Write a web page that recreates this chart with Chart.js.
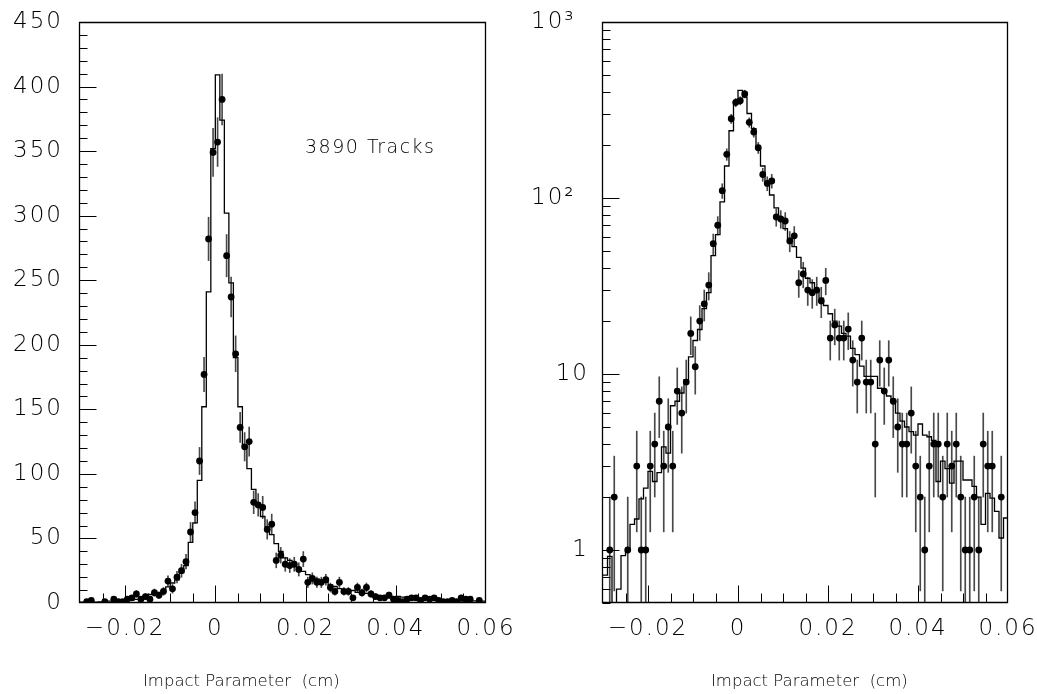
<!DOCTYPE html>
<html><head><meta charset="utf-8">
<script src="https://cdn.jsdelivr.net/npm/chart.js@4.4.1/dist/chart.umd.min.js"></script>
<style>
html,body{margin:0;padding:0;background:#fff;}
#wrap{position:relative;width:1037px;height:694px;overflow:hidden;background:#fff;}
.pane{position:absolute;top:0;height:694px;}
</style></head><body>
<div id="wrap">
<div class="pane" style="left:0;width:518px"><canvas id="c1" width="518" height="694"></canvas></div>
<div class="pane" style="left:518px;width:519px"><canvas id="c2" width="519" height="694"></canvas></div>
</div>
<script>
// ---- data ----
const xMin = -0.03, xMax = 0.06, nBins = 90;
const dataCounts = [
  0,1,2,0,0,1,0,3,1,1,
  3,4,7,3,5,3,8,6,9,17,
  11,20,25,32,55,70,110,177,282,349,
  357,390,269,237,193,136,121,125,78,76,
  74,57,61,33,37,30,29,30,26,34,
  16,19,16,16,18,12,9,16,9,9,
  4,12,8,12,7,5,4,4,6,3,
  2,1,3,4,4,2,4,3,4,2,
  1,1,2,1,4,3,3,0,2,0
];
const mcCounts = [
  0.72,0.92,0.4,0.6,0.93,1.0,1.4,1.5,1.95,2.25,
  2.8,2.45,2.75,3.85,3.55,6.6,7.0,7.8,9.3,12.5,
  15.5,17.9,23.5,29,47,62,95,152,241,352,
  409,374,302,248,190,152,122,104,88,77,
  67,59,53,46,40,35,33,30,27,24.5,
  22,20,18.7,17,16.4,14,12.9,11.1,9.7,9.7,
  9.7,8.3,8.0,7.5,7.0,6.0,5.4,5.0,4.7,4.5,
  5.2,4.5,4.4,4.2,2.45,3.2,2.9,2.4,3.2,3.2,
  2.5,2.5,2.3,2.0,1.4,2.1,1.97,1.66,1.17,1.52
];
const xTickValues = [-0.02, 0, 0.02, 0.04, 0.06];
const linTickValues = [0,50,100,150,200,250,300,350,400,450];
const logTickValues = [1,10,100,1000];
const logTickLabels = ['1','10','10\u00B2\u2002','10\u00B3\u2002'];
const xTitle = 'Impact Parameter  (cm)';
const trackText = '3890 Tracks';

// ---- derived point lists ----
const binW = (xMax - xMin) / nBins;
const centers = dataCounts.map((_, i) => xMin + binW * (i + 0.5));
function mcPoints() {
  const pts = mcCounts.map((v, i) => ({x: xMin + binW * i, y: v}));
  pts.push({x: xMax, y: mcCounts[nBins - 1]});
  return pts;
}
function dotPoints() {
  const p = [];
  dataCounts.forEach((n, i) => { if (n > 0) p.push({x: centers[i], y: n}); });
  return p;
}
function errPoints(isLog) {
  const p = [];
  dataCounts.forEach((n, i) => {
    if (n > 0) {
      const e = Math.sqrt(n);
      let lo = n - e; if (isLog) lo = Math.max(lo, 0.01); else lo = Math.max(lo, 0);
      p.push({x: centers[i], y: [lo, n + e]});
    }
  });
  return p;
}

const FONT = '"DejaVu Sans ExtraLight", "DejaVu Sans", sans-serif';

const framePlugin = {
  id: 'frameTicks',
  beforeDraw(chart) { chart.ctx.letterSpacing = '2px'; },
  afterDraw(chart) {
    const {ctx, chartArea: {left, right, top, bottom}, scales: {x, y}} = chart;
    const isLog = y.type === 'logarithmic';
    ctx.save();
    ctx.strokeStyle = '#000';
    ctx.lineWidth = 1.3;
    const L = Math.round(left) - 0.5, R = Math.round(right) - 0.5;
    const T = Math.round(top) + 0.5, B = Math.round(bottom) - 0.5;
    ctx.beginPath();
    ctx.moveTo(L, T); ctx.lineTo(R, T); ctx.lineTo(R, B); ctx.lineTo(L, B); ctx.closePath();
    ctx.stroke();
    ctx.lineWidth = 1;
    ctx.beginPath();
    // x ticks (inward)
    const nx = Math.round((xMax - xMin) / 0.005);
    for (let k = 1; k < nx; k++) {
      const v = xMin + k * 0.005;
      const major = Math.abs(Math.round(v / 0.02) * 0.02 - v) < 1e-9;
      const px = Math.round(x.getPixelForValue(v)) + 0.5;
      ctx.moveTo(px, B);
      ctx.lineTo(px, B - (major ? 17 : 9));
    }
    // y ticks
    const yt = [];
    if (isLog) {
      [0.1, 1, 10, 100].forEach(d => { for (let m = 1; m <= 9; m++) { const v = m * d; if (v >= 0.5 && v < 1000) yt.push([v, m === 1]); } });
    } else {
      for (let v = 10; v < 450; v += 10) yt.push([v, v % 50 === 0]);
    }
    yt.forEach(([v, major]) => {
      const py = Math.round(y.getPixelForValue(v)) + 0.5;
      ctx.moveTo(L, py);
      ctx.lineTo(L + (major ? 17 : 8), py);
    });
    ctx.stroke();
    ctx.restore();

    const texts = chart.options.plugins.frameTicks.texts || [];
    texts.forEach(t => {
      ctx.save();
      ctx.letterSpacing = t.spacing + 'px';
      ctx.font = '200 ' + t.size + 'px ' + FONT;
      ctx.fillStyle = '#000';
      ctx.textAlign = 'left';
      ctx.textBaseline = 'middle';
      ctx.fillText(t.text, t.x, t.y);
      ctx.restore();
    });
  }
};

function makeChart(id, isLog, yWidth, padRight, texts) {
  const tickFont = {family: FONT, size: 23, weight: 200};
  const yScale = isLog ? {
    type: 'logarithmic', min: 0.5, max: 1000,
    afterBuildTicks: s => { s.ticks = logTickValues.map(v => ({value: v, major: true})); },
    ticks: {callback: (v, i) => logTickLabels[i], font: tickFont, color: '#000', padding: 14, autoSkip: false}
  } : {
    type: 'linear', min: 0, max: 450,
    afterBuildTicks: s => { s.ticks = linTickValues.map(v => ({value: v})); },
    ticks: {callback: v => String(v), font: tickFont, color: '#000', padding: 17, autoSkip: false}
  };
  Object.assign(yScale, {
    grid: {display: false, drawTicks: false}, border: {display: false},
    afterFit: s => { s.width = yWidth; s.paddingTop = 0; s.paddingBottom = 0; }
  });
  return new Chart(document.getElementById(id), {
    type: 'bar',
    data: {datasets: [
      {type: 'line', data: mcPoints(), stepped: 'before', borderColor: '#000', borderWidth: 1.3,
       pointRadius: 0, fill: false, order: 1},
      {type: 'bar', data: errPoints(isLog), backgroundColor: 'rgba(40,40,40,0.85)', borderWidth: 0,
       barThickness: 1, grouped: false, order: 3},
      {type: 'scatter', data: dotPoints(), pointRadius: 3.4, backgroundColor: '#000',
       borderWidth: 0, order: 0}
    ]},
    options: {
      responsive: false, animation: false, events: [],
      layout: {padding: {top: 22, right: padRight, left: 0, bottom: 0}},
      plugins: {legend: {display: false}, tooltip: {enabled: false}, frameTicks: {texts}},
      scales: {
        x: {
          type: 'linear', min: xMin, max: xMax, offset: false,
          grid: {display: false, drawTicks: false}, border: {display: false},
          afterBuildTicks: s => { s.ticks = xTickValues.map(v => ({value: v})); },
          ticks: {
            callback: v => v === 0 ? '0' : (v < 0 ? '\u2212' + Math.abs(v).toFixed(2) : v.toFixed(2)),
            font: tickFont, color: '#000', padding: 12, maxRotation: 0, autoSkip: false
          },
          afterFit: s => { s.height = 91; s.paddingLeft = 0; s.paddingRight = 0; }
        },
        y: yScale
      }
    },
    plugins: [framePlugin]
  });
}

makeChart('c1', false, 80, 32, [
  {text: trackText, x: 305, y: 148, size: 19, spacing: 1.5},
  {text: xTitle, x: 143, y: 682, size: 16.5, spacing: 0}
]);
makeChart('c2', true, 85, 29, [
  {text: xTitle, x: 193, y: 682, size: 16.5, spacing: 0}
]);
</script>
</body></html>
